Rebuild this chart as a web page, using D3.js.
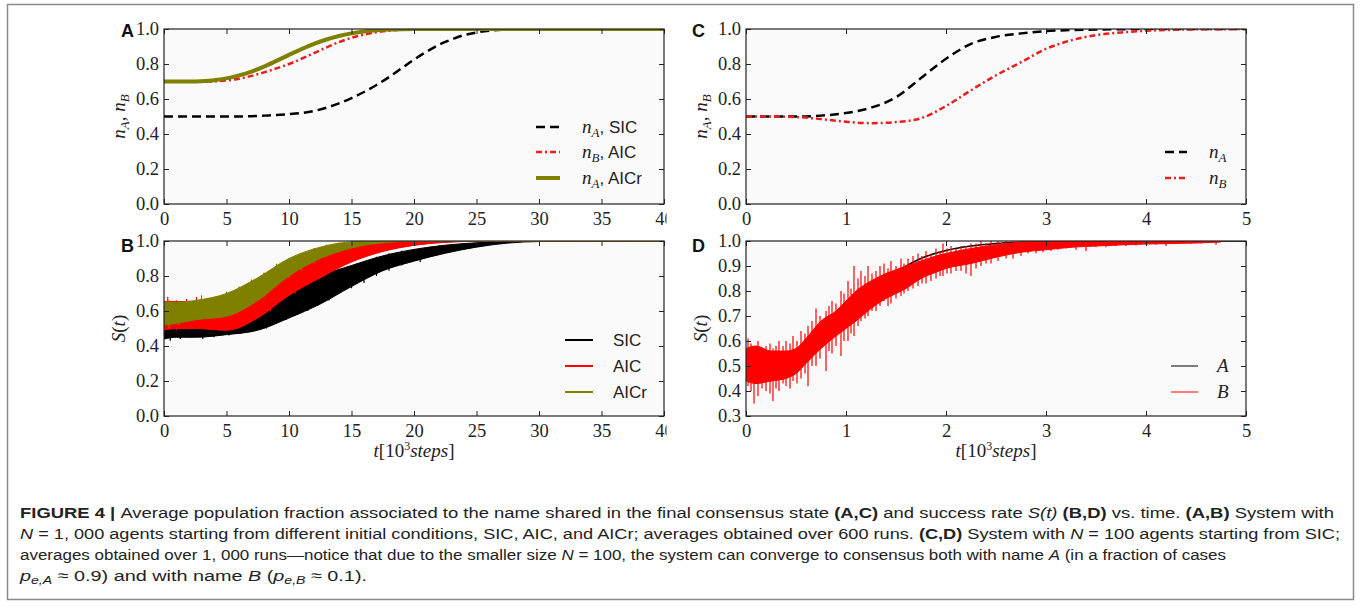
<!DOCTYPE html>
<html>
<head>
<meta charset="utf-8">
<script src="https://cdn.jsdelivr.net/npm/d3@7"></script>
<style>
body { margin: 0; background: #fff; }
svg { display: block; }
.tick text { font-family: "Liberation Serif", "DejaVu Serif", serif; font-size: 18.5px; fill: #222; }
.tick line { stroke: #222; }
.lbl { font-family: "Liberation Serif", "DejaVu Serif", serif; font-style: italic; font-size: 19px; fill: #222; }
.leg { font-family: "Liberation Sans", Arial, sans-serif; font-size: 17px; fill: #222; }
.cap { font-family: "Liberation Sans Narrow", "Liberation Sans", Arial, sans-serif; font-size: 15.5px; fill: #222; }
</style>
</head>
<body>
<script>
// ---- panel A : n_A, n_B vs t (10^3 steps), N = 1000
const xA    = [0, 2, 3, 4, 5, 6, 7, 8, 9, 10, 11, 12, 13, 14, 15, 16, 17, 18, 19, 20, 21, 22, 23, 24, 25, 26, 27, 28, 30, 35, 40];
const sicA  = [0.5, 0.5, 0.5, 0.5, 0.5, 0.5, 0.502, 0.505, 0.508, 0.513, 0.52, 0.532, 0.55, 0.575, 0.605, 0.64, 0.68, 0.725, 0.775, 0.825, 0.87, 0.91, 0.94, 0.965, 0.98, 0.99, 0.996, 0.999, 1, 1, 1];
const aicA  = [0.7, 0.7, 0.7, 0.701, 0.706, 0.716, 0.732, 0.752, 0.775, 0.8, 0.83, 0.862, 0.895, 0.925, 0.95, 0.968, 0.981, 0.99, 0.996, 0.999, 1, 1, 1, 1, 1, 1, 1, 1, 1, 1, 1];
const aicrA = [0.7, 0.7, 0.702, 0.707, 0.718, 0.735, 0.757, 0.785, 0.818, 0.852, 0.885, 0.915, 0.94, 0.96, 0.975, 0.986, 0.993, 0.997, 0.999, 1, 1, 1, 1, 1, 1, 1, 1, 1, 1, 1, 1];

// ---- panel B : S(t) noise bands (lower / upper edge)
const xB     = [0, 1, 2.5, 5, 7.5, 10, 12.5, 15, 17.5, 20, 22.5, 25, 27.5, 30, 40];
const sicLo  = [0.44, 0.45, 0.45, 0.465, 0.49, 0.56, 0.64, 0.74, 0.83, 0.885, 0.93, 0.965, 0.988, 0.997, 1];
const sicHi  = [0.5, 0.51, 0.505, 0.52, 0.575, 0.7, 0.8, 0.86, 0.915, 0.952, 0.976, 0.99, 0.998, 1, 1];
const aicLo  = [0.49, 0.5, 0.5, 0.49, 0.56, 0.69, 0.79, 0.88, 0.94, 0.975, 0.992, 0.999, 1, 1, 1];
const aicHi  = [0.655, 0.655, 0.65, 0.62, 0.68, 0.82, 0.915, 0.965, 0.988, 0.998, 1, 1, 1, 1, 1];
const aicrLo = [0.52, 0.53, 0.55, 0.57, 0.66, 0.8, 0.9, 0.96, 0.99, 0.999, 1, 1, 1, 1, 1];
const aicrHi = [0.65, 0.65, 0.66, 0.7, 0.79, 0.9, 0.965, 0.995, 1, 1, 1, 1, 1, 1, 1];
// single spikes sticking out of the bands: [t, low, high]
const sicSpikes = [
    [0.5, 0.43, 0.52], [1.3, 0.44, 0.5], [2.2, 0.45, 0.52], [3.1, 0.44, 0.51], [4, 0.45, 0.53], [5.2, 0.46, 0.54],
    [6.1, 0.47, 0.55], [7, 0.48, 0.57], [8.2, 0.5, 0.61], [9, 0.53, 0.65], [9.8, 0.55, 0.69], [10.7, 0.58, 0.73],
    [11.5, 0.6, 0.76], [12.3, 0.63, 0.84], [13.2, 0.66, 0.81], [14, 0.7, 0.84], [15, 0.73, 0.86], [16, 0.76, 0.88],
    [17, 0.8, 0.91], [18, 0.83, 0.93], [19, 0.86, 0.945], [20.5, 0.88, 0.96], [22, 0.92, 0.975]
];
const aicSpikes = [
    [0.3, 0.5, 0.68], [1, 0.49, 0.66], [1.8, 0.5, 0.67], [2.6, 0.5, 0.68], [3.4, 0.51, 0.63], [4.5, 0.49, 0.61],
    [6, 0.52, 0.63], [7.2, 0.55, 0.68], [8.5, 0.6, 0.73], [9.5, 0.66, 0.8], [10.5, 0.7, 0.84], [11.5, 0.75, 0.88],
    [12.5, 0.79, 0.92], [13.5, 0.84, 0.94], [14.5, 0.87, 0.96], [16, 0.91, 0.98], [17.5, 0.94, 0.99], [19, 0.97, 1]
];
const aicrSpikes = [
    [0.4, 0.5, 0.66], [1.2, 0.52, 0.65], [2, 0.54, 0.66], [3, 0.56, 0.69], [4, 0.57, 0.68], [5, 0.58, 0.71],
    [6, 0.61, 0.74], [7, 0.64, 0.78], [8, 0.68, 0.82], [9, 0.75, 0.87], [10, 0.79, 0.9], [11, 0.83, 0.93],
    [12, 0.87, 0.96], [13, 0.91, 0.98], [14, 0.94, 0.99], [15, 0.96, 1]
];

// ---- panel C : n_A, n_B vs t, N = 100
const xC  = [0, 0.25, 0.5, 0.75, 1, 1.25, 1.5, 1.75, 2, 2.25, 2.5, 2.75, 3, 3.25, 3.5, 3.75, 4, 4.25, 4.5, 4.75, 5];
const nAC = [0.5, 0.5, 0.5, 0.505, 0.52, 0.55, 0.61, 0.72, 0.83, 0.915, 0.955, 0.975, 0.988, 0.994, 0.997, 0.999, 1, 1, 1, 1, 1];
const nBC = [0.5, 0.5, 0.497, 0.485, 0.47, 0.462, 0.468, 0.49, 0.56, 0.65, 0.735, 0.81, 0.886, 0.935, 0.965, 0.98, 0.99, 0.995, 0.998, 0.999, 1];

// ---- panel D : S(t) for runs ending in A (black) and B (red)
const xDa = [0, 0.25, 0.5, 0.75, 1, 1.25, 1.5, 1.75, 2, 2.25, 2.5, 3, 3.5, 4, 5];
const aD  = [0.5, 0.5, 0.52, 0.6, 0.7, 0.8, 0.875, 0.93, 0.962, 0.98, 0.99, 0.998, 1, 1, 1];
// dense core of the red trace
const xDb = [0, 0.1, 0.25, 0.4, 0.5, 0.6, 0.75, 0.9, 1, 1.1, 1.25, 1.4, 1.5, 1.6, 1.75, 1.9, 2, 2.25, 2.5, 2.75, 3, 3.25, 3.5, 4, 4.5, 4.75];
const bLo = [0.44, 0.43, 0.44, 0.45, 0.47, 0.51, 0.57, 0.62, 0.65, 0.68, 0.73, 0.77, 0.79, 0.81, 0.85, 0.875, 0.89, 0.91, 0.935, 0.955, 0.965, 0.975, 0.98, 0.988, 0.992, 0.996];
const bHi = [0.57, 0.58, 0.56, 0.56, 0.57, 0.61, 0.68, 0.72, 0.76, 0.8, 0.84, 0.87, 0.885, 0.9, 0.92, 0.94, 0.95, 0.97, 0.985, 0.995, 1, 1, 1, 1, 1, 1];
// single spikes of the red trace: [t, low, high]
const bSpikes = [
    [0.02, 0.42, 0.61], [0.05, 0.4, 0.59], [0.08, 0.35, 0.55], [0.12, 0.38, 0.6], [0.16, 0.41, 0.57], [0.2, 0.4, 0.58],
    [0.24, 0.39, 0.59], [0.27, 0.36, 0.57], [0.3, 0.41, 0.58], [0.33, 0.4, 0.6], [0.37, 0.43, 0.58], [0.4, 0.42, 0.6],
    [0.44, 0.41, 0.59], [0.47, 0.44, 0.62], [0.51, 0.43, 0.6], [0.55, 0.45, 0.64], [0.59, 0.47, 0.63], [0.62, 0.42, 0.66],
    [0.66, 0.5, 0.68], [0.7, 0.5, 0.73], [0.74, 0.53, 0.7], [0.8, 0.48, 0.72], [0.83, 0.56, 0.74], [0.86, 0.55, 0.76],
    [0.9, 0.58, 0.75], [0.95, 0.54, 0.8], [0.98, 0.6, 0.79], [1.02, 0.6, 0.84], [1.05, 0.63, 0.81], [1.08, 0.62, 0.9],
    [1.12, 0.66, 0.85], [1.15, 0.68, 0.88], [1.19, 0.69, 0.86], [1.22, 0.7, 0.9], [1.26, 0.72, 0.87], [1.3, 0.72, 0.88],
    [1.34, 0.74, 0.9], [1.38, 0.76, 0.91], [1.42, 0.74, 0.89], [1.45, 0.75, 0.92], [1.5, 0.77, 0.9], [1.55, 0.78, 0.93],
    [1.58, 0.79, 0.91], [1.62, 0.8, 0.93], [1.67, 0.81, 0.94], [1.72, 0.82, 0.95], [1.76, 0.83, 0.94], [1.8, 0.83, 0.96],
    [1.85, 0.84, 0.95], [1.9, 0.85, 0.97], [1.94, 0.86, 0.96], [1.97, 0.86, 0.99], [2.01, 0.87, 0.97], [2.05, 0.87, 0.98],
    [2.1, 0.88, 0.97], [2.15, 0.88, 0.98], [2.2, 0.87, 0.98], [2.25, 0.86, 0.99], [2.3, 0.89, 0.99], [2.35, 0.9, 1],
    [2.4, 0.91, 0.99], [2.45, 0.91, 1], [2.52, 0.92, 1], [2.6, 0.93, 1], [2.67, 0.93, 1], [2.75, 0.94, 1], [2.82, 0.95, 1],
    [2.9, 0.95, 1], [2.97, 0.955, 1], [3.05, 0.96, 1], [3.12, 0.965, 1], [3.2, 0.97, 1], [3.3, 0.965, 1], [3.4, 0.96, 1],
    [3.5, 0.975, 1], [3.6, 0.975, 1], [3.7, 0.98, 1], [3.8, 0.98, 1], [3.9, 0.982, 1], [4.0, 0.985, 1], [4.1, 0.985, 1],
    [4.2, 0.98, 1], [4.3, 0.99, 1], [4.45, 0.99, 1], [4.55, 0.99, 1], [4.7, 0.985, 1]
];

const ticksA = [0, 5, 10, 15, 20, 25, 30, 35, 40];
const ticksC = [0, 1, 2, 3, 4, 5];
const ticksN = [0, 0.2, 0.4, 0.6, 0.8, 1.0];
const ticksD = [0.3, 0.4, 0.5, 0.6, 0.7, 0.8, 0.9, 1.0];

const W = 500, H = 175;

const svg = d3.select("body").append("svg")
    .attr("width", 1360)
    .attr("height", 608);

const defs = svg.append("defs");

// outer frame of the figure
svg.append("rect")
    .attr("x", 7.5).attr("y", 4.5)
    .attr("width", 1346).attr("height", 595)
    .attr("fill", "none")
    .attr("stroke", "#8a8a8a")
    .attr("stroke-width", 1.5);

let clipId = 0;

function makePanel(left, top, xDomain, yDomain, xTicks, yTicks, cutRight) {
    const g = svg.append("g").attr("transform", `translate(${left},${top})`);
    const x = d3.scaleLinear().domain(xDomain).range([0, W]);
    const y = d3.scaleLinear().domain(yDomain).range([H, 0]);

    g.append("rect").attr("width", W).attr("height", H).attr("fill", "#fafafa");

    const id = "clip" + (clipId++);
    defs.append("clipPath").attr("id", id)
        .append("rect").attr("width", W).attr("height", H);
    const plot = g.append("g").attr("clip-path", `url(#${id})`);

    return {g, x, y, plot, xTicks, yTicks, cutRight};
}

function finishPanel(p) {
    const {g, x, y, xTicks, yTicks, cutRight} = p;
    g.append("rect").attr("width", W).attr("height", H)
        .attr("fill", "none").attr("stroke", "#222").attr("stroke-width", 1.2);

    const xb = g.append("g").attr("transform", `translate(0,${H})`)
        .call(d3.axisBottom(x).tickValues(xTicks).tickFormat(d3.format("d"))
            .tickSizeInner(-5).tickSizeOuter(0).tickPadding(8));
    if (cutRight) {
        // the figure is cropped here, only the first digit of "40" shows
        const id = "clip" + (clipId++);
        defs.append("clipPath").attr("id", id)
            .append("rect").attr("x", -60).attr("y", -10).attr("width", W + 62.5).attr("height", 40);
        xb.attr("clip-path", `url(#${id})`);
    }
    g.append("g")
        .call(d3.axisLeft(y).tickValues(yTicks).tickFormat(d3.format(".1f"))
            .tickSizeInner(-5).tickSizeOuter(0).tickPadding(5));
    g.append("g")
        .call(d3.axisTop(x).tickValues(xTicks).tickFormat("").tickSizeInner(-5).tickSizeOuter(0));
    g.append("g").attr("transform", `translate(${W},0)`)
        .call(d3.axisRight(y).tickValues(yTicks).tickFormat("").tickSizeInner(-5).tickSizeOuter(0));
    g.selectAll(".domain").remove();
}

function drawLine(p, xs, ys, color, width, dash) {
    const line = d3.line().x(d => p.x(d[0])).y(d => p.y(d[1])).curve(d3.curveMonotoneX);
    p.plot.append("path")
        .datum(d3.zip(xs, ys))
        .attr("d", line)
        .attr("fill", "none")
        .attr("stroke", color)
        .attr("stroke-width", width)
        .attr("stroke-dasharray", dash || null);
}

function drawBand(p, xs, lo, hi, color) {
    const area = d3.area().x(d => p.x(d[0])).y0(d => p.y(d[1])).y1(d => p.y(d[2])).curve(d3.curveMonotoneX);
    p.plot.append("path")
        .datum(d3.zip(xs, lo, hi))
        .attr("d", area)
        .attr("fill", color)
        .attr("stroke", color)
        .attr("stroke-width", 1);
}

function drawSpikes(p, spikes, color) {
    p.plot.append("g").selectAll("line")
        .data(spikes)
        .join("line")
        .attr("x1", d => p.x(d[0])).attr("x2", d => p.x(d[0]))
        .attr("y1", d => p.y(d[1])).attr("y2", d => p.y(d[2]))
        .attr("stroke", color)
        .attr("stroke-width", 1.2);
}

function legend(p, rows) {
    rows.forEach(r => {
        p.g.append("line")
            .attr("x1", r.x1).attr("x2", r.x2).attr("y1", r.y).attr("y2", r.y)
            .attr("stroke", r.color).attr("stroke-width", r.width)
            .attr("stroke-dasharray", r.dash || null);
        const t = p.g.append("text").attr("class", "leg")
            .attr("x", r.tx).attr("y", r.y).attr("dy", "0.36em");
        r.parts.forEach(s => {
            const ts = t.append("tspan").text(s.t);
            if (s.math) ts.attr("font-family", "Liberation Serif, DejaVu Serif, serif").attr("font-style", "italic").attr("font-size", 19);
            if (s.sub) ts.attr("dy", s.sub);
            if (s.sub > 0) ts.attr("font-size", 13);
        });
    });
}

function label(x, y, parts, rotate) {
    const t = svg.append("text").attr("class", "lbl")
        .attr("text-anchor", "middle")
        .attr("transform", `translate(${x},${y})` + (rotate ? " rotate(-90)" : ""));
    parts.forEach(s => {
        const ts = t.append("tspan").text(s.t);
        if (s.up) ts.attr("font-style", "normal");
        if (s.size) ts.attr("font-size", s.size);
        if (s.dy) ts.attr("dy", s.dy);
    });
}

function letter(x, y, s) {
    svg.append("text").attr("x", x).attr("y", y).text(s)
        .attr("font-family", "Liberation Sans, Arial, sans-serif")
        .attr("font-weight", "bold").attr("font-size", 18).attr("fill", "#111");
}

// ---------- A
const pA = makePanel(164, 29, [0, 40], [0, 1], ticksA, ticksN, true);
drawLine(pA, xA, sicA, "#000", 2.5, "9,5");
drawLine(pA, xA, aicA, "#ee1c1c", 2.5, "6,3,2,3");
drawLine(pA, xA, aicrA, "#7f7f00", 4);
finishPanel(pA);
legend(pA, [
    {x1: 372, x2: 396, y: 98, tx: 418, color: "#000", width: 2.5, dash: "9,5",
     parts: [{t: "n", math: true}, {t: "A", math: true, sub: 4}, {t: ", SIC", sub: -4}]},
    {x1: 372, x2: 396, y: 123, tx: 418, color: "#ee1c1c", width: 2.5, dash: "6,3,2,3",
     parts: [{t: "n", math: true}, {t: "B", math: true, sub: 4}, {t: ", AIC", sub: -4}]},
    {x1: 372, x2: 396, y: 149, tx: 418, color: "#7f7f00", width: 4,
     parts: [{t: "n", math: true}, {t: "A", math: true, sub: 4}, {t: ", AICr", sub: -4}]}
]);

// ---------- B
const pB = makePanel(164, 241, [0, 40], [0, 1], ticksA, ticksN, true);
drawBand(pB, xB, sicLo, sicHi, "#000");
drawSpikes(pB, sicSpikes, "#000");
drawBand(pB, xB, aicLo, aicHi, "#ff0000");
drawSpikes(pB, aicSpikes, "#ff0000");
drawBand(pB, xB, aicrLo, aicrHi, "#808000");
drawSpikes(pB, aicrSpikes, "#808000");
finishPanel(pB);
legend(pB, [
    {x1: 401, x2: 429, y: 99, tx: 449, color: "#000", width: 2, parts: [{t: "SIC"}]},
    {x1: 401, x2: 429, y: 125, tx: 449, color: "#ff0000", width: 2, parts: [{t: "AIC"}]},
    {x1: 401, x2: 429, y: 151, tx: 449, color: "#808000", width: 2, parts: [{t: "AICr"}]}
]);

// ---------- C
const pC = makePanel(746, 29, [0, 5], [0, 1], ticksC, ticksN, false);
drawLine(pC, xC, nAC, "#000", 2.5, "9,5");
drawLine(pC, xC, nBC, "#ee1c1c", 2.5, "6,3,2,3");
finishPanel(pC);
legend(pC, [
    {x1: 419, x2: 441, y: 123, tx: 463, color: "#000", width: 2.5, dash: "9,5",
     parts: [{t: "n", math: true}, {t: "A", math: true, sub: 4}]},
    {x1: 419, x2: 441, y: 149, tx: 463, color: "#ee1c1c", width: 2.5, dash: "6,3,2,3",
     parts: [{t: "n", math: true}, {t: "B", math: true, sub: 4}]}
]);

// ---------- D
const pD = makePanel(746, 241, [0, 5], [0.3, 1], ticksC, ticksD, false);
drawLine(pD, xDa, aD, "#000", 1.6);
drawBand(pD, xDb, bLo, bHi, "#ff0000");
drawSpikes(pD, bSpikes, "#ff0000");
finishPanel(pD);
legend(pD, [
    {x1: 425, x2: 452, y: 125, tx: 471, color: "#000", width: 1, parts: [{t: "A", math: true}]},
    {x1: 425, x2: 452, y: 151, tx: 471, color: "#ff0000", width: 1, parts: [{t: "B", math: true}]}
]);

// panel letters
letter(121, 37, "A");
letter(121, 252, "B");
letter(692, 37, "C");
letter(692, 252, "D");

// axis titles
const nLabel = [{t: "n"}, {t: "A", size: 13, dy: 4}, {t: ", ", up: true, dy: -4}, {t: "n"}, {t: "B", size: 13, dy: 4}];
const sLabel = [{t: "S"}, {t: "(", up: true}, {t: "t"}, {t: ")", up: true}];
const tLabel = [{t: "t"}, {t: "[10", up: true}, {t: "3", up: true, size: 12, dy: -7}, {t: "steps", dy: 7}, {t: "]", up: true}];
label(125, 116.5, nLabel, true);
label(125, 328.5, sLabel, true);
label(707, 116.5, nLabel, true);
label(707, 328.5, sLabel, true);
label(414, 457, tLabel, false);
label(996, 457, tLabel, false);

// caption
const capLines = [
    {y: 518, len: 1314, parts: [
        {t: "FIGURE 4 | ", b: true}, {t: "Average population fraction associated to the name shared in the final consensus state "},
        {t: "(A,C)", b: true}, {t: " and success rate "}, {t: "S(t)", i: true}, {t: " "}, {t: "(B,D)", b: true},
        {t: " vs. time. "}, {t: "(A,B)", b: true}, {t: " System with"}]},
    {y: 539, len: 1320, parts: [
        {t: "N", i: true}, {t: " = 1, 000 agents starting from different initial conditions, SIC, AIC, and AICr; averages obtained over 600 runs. "},
        {t: "(C,D)", b: true}, {t: " System with "}, {t: "N", i: true}, {t: " = 100 agents starting from SIC;"}]},
    {y: 560, len: 1206, parts: [
        {t: "averages obtained over 1, 000 runs\u2014notice that due to the smaller size "}, {t: "N", i: true},
        {t: " = 100, the system can converge to consensus both with name "}, {t: "A", i: true}, {t: " (in a fraction of cases"}]},
    {y: 581, len: 347, parts: [
        {t: "p", i: true}, {t: "e,A", i: true, sub: 3}, {t: " \u2248 0.9) and with name ", sub: -3}, {t: "B", i: true},
        {t: " ("}, {t: "p", i: true}, {t: "e,B", i: true, sub: 3}, {t: " \u2248 0.1).", sub: -3}]}
];
capLines.forEach(l => {
    const t = svg.append("text").attr("class", "cap")
        .attr("x", 20).attr("y", l.y)
        .attr("textLength", l.len).attr("lengthAdjust", "spacingAndGlyphs");
    l.parts.forEach(s => {
        const ts = t.append("tspan").text(s.t);
        if (s.b) ts.attr("font-weight", "bold");
        if (s.i) ts.attr("font-style", "italic");
        if (s.sub) ts.attr("dy", s.sub);
        if (s.sub > 0) ts.attr("font-size", 11);
    });
});
</script>
</body>
</html>
